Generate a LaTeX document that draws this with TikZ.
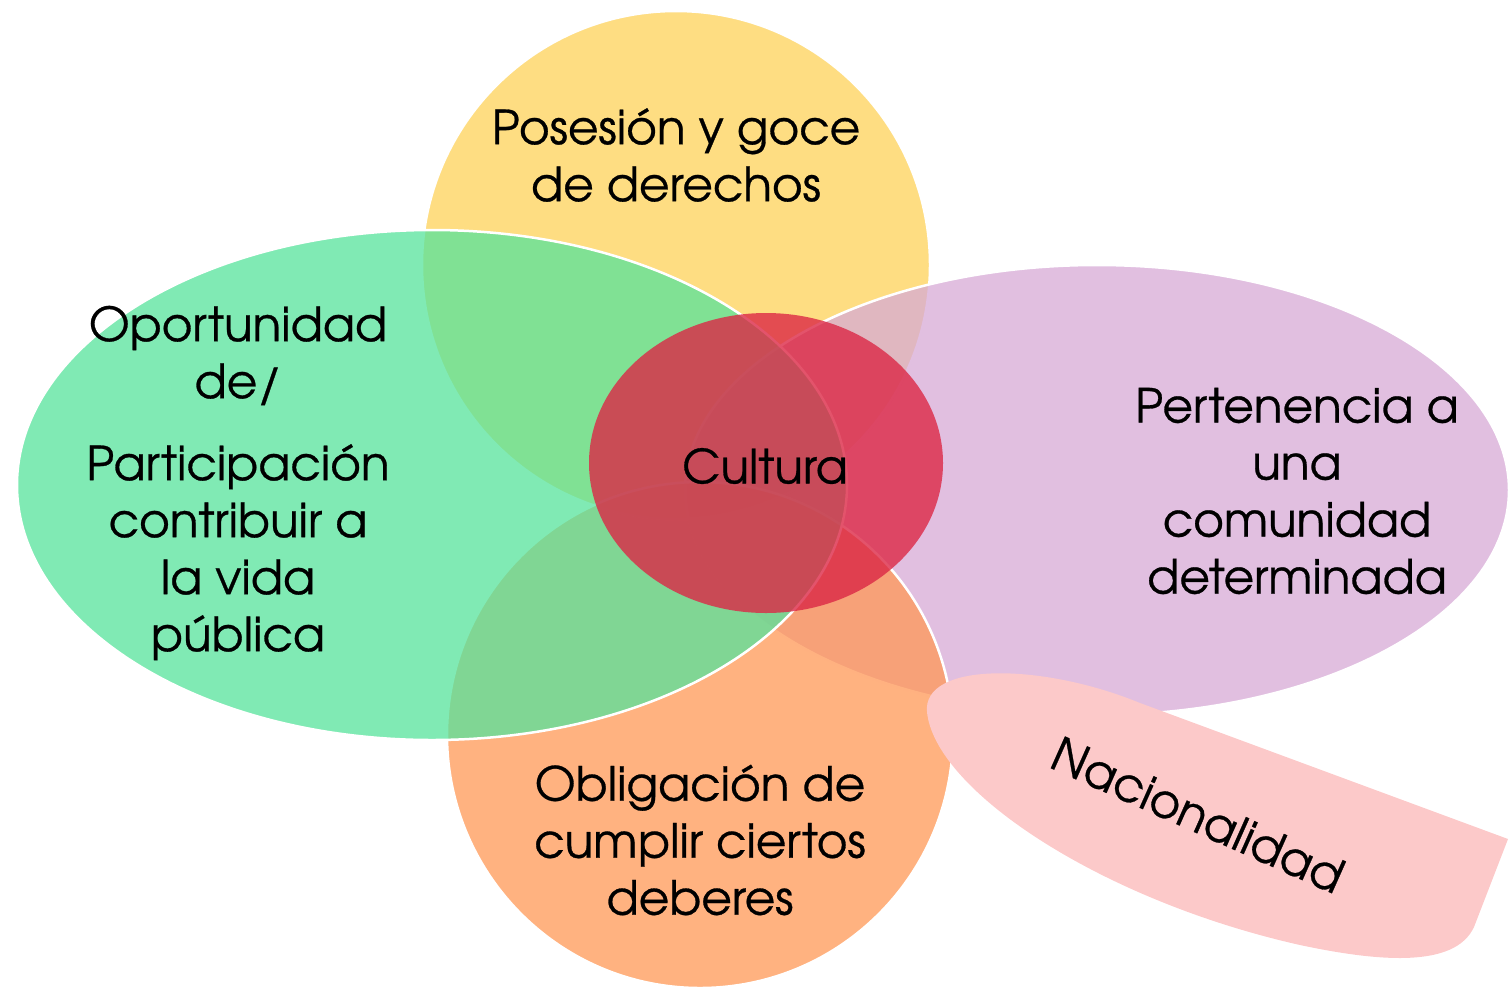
\documentclass[tikz,border=0pt]{standalone}
\usepackage{fontspec}
\setmainfont{TeX Gyre Adventor}[FakeBold=0.6]
\usetikzlibrary{shapes.geometric}

\definecolor{yellowC}{RGB}{254,210,88}
\definecolor{purpleC}{RGB}{215,170,214}
\definecolor{orangeC}{RGB}{255,152,86}
\definecolor{greenC}{RGB}{86,227,155}
\definecolor{redC}{RGB}{220,40,70}
\definecolor{pinkC}{RGB}{252,201,201}

\tikzset{
	blob/.style={draw=white, line width=2.5pt, fill opacity=0.75,
		inner sep=0pt, outer sep=0pt},
	txt/.style={align=center, text=black, inner sep=0pt,
		font=\fontsize{47}{57}\selectfont}
}

\begin{document}
\begin{tikzpicture}[x=1pt, y=-1pt]
				\useasboundingbox (0,0) rectangle (1509,986);
				% Shapes:
				\node[blob, circle, fill=yellowC, minimum size=508] (goce) at (676,265){};
				\node[blob, ellipse, fill=purpleC, minimum width=824,
				minimum height=450] (comunidad) at (1097,490){};
				\node[blob, circle, fill=orangeC, minimum size=506] (deberes) at (700,735){};
				\node[blob, ellipse, fill=greenC, minimum width=830,
				minimum height=510] (vida) at (432,485){};
				\node[ellipse, fill=redC, fill opacity=0.8, inner sep=0pt,
				minimum width=354, minimum height=300] (cultura) at (766,463){};
				\fill[pinkC] (927,712) .. controls (922,662) and (1040,662) .. (1140,703)
				-- (1508,839) -- (1474,927) .. controls (1455,968) and (1380,962) .. (1300,945)
				.. controls (1100,900) and (935,790) .. (927,712);
				% Texts:
				\node[txt] (tGoce) at (676,155){Posesión y goce\\de derechos};
				\node[txt] (tVida) at (238,483){Oportunidad\\de/\\[25pt]Participación\\contribuir a\\la vida\\pública};
				\node[txt] (tComunidad) at (1297,491){Pertenencia a\\una\\comunidad\\determinada};
				\node[txt] (tDeberes) at (700,840){Obligación de\\cumplir ciertos\\deberes};
				\node[txt] (tCultura) at (765,466){Cultura};
				\node[txt, rotate=-24] (tNacion) at (1198,815){Nacionalidad};
			\end{tikzpicture}
\end{document}
